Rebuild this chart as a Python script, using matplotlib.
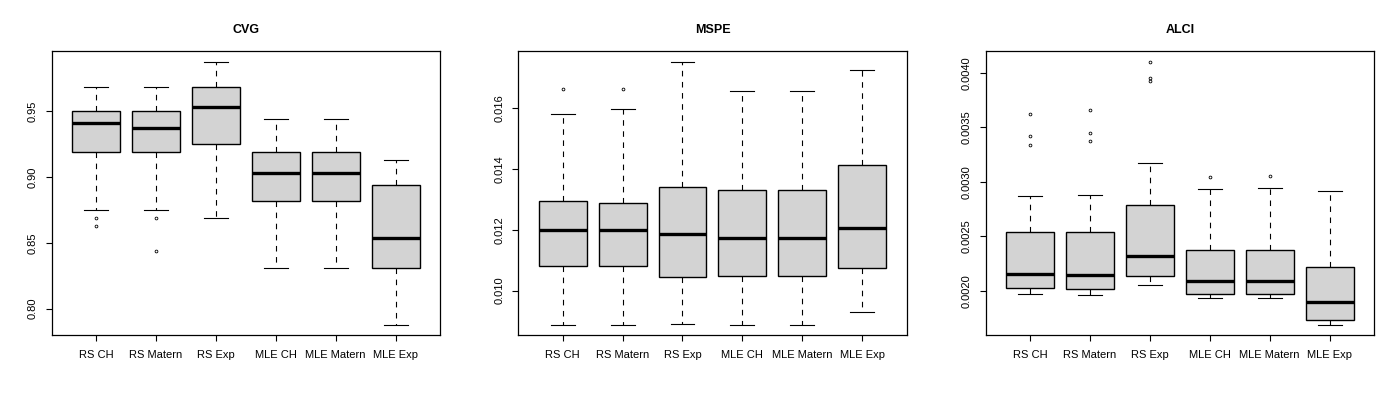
import matplotlib
matplotlib.use("Agg")
import matplotlib.pyplot as plt

plt.rcParams['font.family'] = ['Liberation Sans', 'DejaVu Sans']

categories = ["RS CH", "RS Matern", "RS Exp", "MLE CH", "MLE Matern", "MLE Exp"]

# CVG: lower whisker, Q1, median, Q3, upper whisker, outliers
cvg_whislo = [0.8746, 0.8746, 0.8685, 0.8312, 0.8312, 0.7878]
cvg_q1     = [0.9188, 0.9188, 0.9249, 0.8815, 0.8815, 0.8312]
cvg_med    = [0.9409, 0.9370, 0.9530, 0.9028, 0.9028, 0.8533]
cvg_q3     = [0.9500, 0.9500, 0.9680, 0.9188, 0.9188, 0.8936]
cvg_whishi = [0.9680, 0.9680, 0.9873, 0.9439, 0.9439, 0.9127]
cvg_fliers = [[0.8685, 0.8624], [0.8685, 0.8434], [], [], [], []]

# MSPE
mspe_whislo = [0.008877, 0.008877, 0.008910, 0.008877, 0.008877, 0.009307]
mspe_q1     = [0.010826, 0.010826, 0.010462, 0.010495, 0.010495, 0.010760]
mspe_med    = [0.011982, 0.011982, 0.011861, 0.011718, 0.011718, 0.012048]
mspe_q3     = [0.012962, 0.012895, 0.013402, 0.013325, 0.013325, 0.014150]
mspe_whishi = [0.015802, 0.015978, 0.017530, 0.016561, 0.016561, 0.017266]
mspe_fliers = [[0.016639], [0.016639], [], [], [], []]

# ALCI
alci_whislo = [0.001972, 0.001963, 0.002055, 0.001935, 0.001935, 0.001687]
alci_q1     = [0.002028, 0.002018, 0.002138, 0.001972, 0.001972, 0.001733]
alci_med    = [0.002157, 0.002147, 0.002323, 0.002086, 0.002086, 0.001899]
alci_q3     = [0.002535, 0.002535, 0.002783, 0.002378, 0.002378, 0.002221]
alci_whishi = [0.002869, 0.002876, 0.003171, 0.002931, 0.002940, 0.002912]
alci_fliers = [[0.003622, 0.003419, 0.003336],
               [0.003659, 0.003447, 0.003373],
               [0.004101, 0.003948, 0.003923],
               [0.003041], [0.003051], []]

cvg_ticks = [0.80, 0.85, 0.90, 0.95]
cvg_ticklabels = ["0.80", "0.85", "0.90", "0.95"]
mspe_ticks = [0.010, 0.012, 0.014, 0.016]
mspe_ticklabels = ["0.010", "0.012", "0.014", "0.016"]
alci_ticks = [0.0020, 0.0025, 0.0030, 0.0035, 0.0040]
alci_ticklabels = ["0.0020", "0.0025", "0.0030", "0.0035", "0.0040"]

panels = [
    ("CVG", cvg_whislo, cvg_q1, cvg_med, cvg_q3, cvg_whishi, cvg_fliers, cvg_ticks, cvg_ticklabels),
    ("MSPE", mspe_whislo, mspe_q1, mspe_med, mspe_q3, mspe_whishi, mspe_fliers, mspe_ticks, mspe_ticklabels),
    ("ALCI", alci_whislo, alci_q1, alci_med, alci_q3, alci_whishi, alci_fliers, alci_ticks, alci_ticklabels),
]

fig = plt.figure(figsize=(14, 4), dpi=100)
lefts = [51.7, 518.3, 985.7]
width_px = 388.3
top_px, bot_px = 51.3, 335.3

for (title, wlo, q1, med, q3, whi, fl, ticks, tlabels), lp in zip(panels, lefts):
    ax = fig.add_axes([lp / 1400, 1 - bot_px / 400, width_px / 1400, (bot_px - top_px) / 400])
    stats = []
    for i in range(len(categories)):
        stats.append(dict(whislo=wlo[i], q1=q1[i], med=med[i], q3=q3[i],
                          whishi=whi[i], fliers=fl[i], label=categories[i]))
    ax.bxp(stats, positions=range(1, 7), widths=0.8, patch_artist=True,
           showfliers=True,
           boxprops=dict(facecolor="#d3d3d3", edgecolor="black", linewidth=1.0),
           medianprops=dict(color="black", linewidth=2.4, solid_capstyle="butt"),
           whiskerprops=dict(color="black", linewidth=0.8, linestyle=(0, (5, 5))),
           capprops=dict(color="black", linewidth=0.8),
           capwidths=0.4,
           flierprops=dict(marker="o", markersize=2.0, markerfacecolor="none",
                           markeredgecolor="black", markeredgewidth=0.6, linestyle="none"))
    allv = wlo + whi + [v for f in fl for v in f]
    lo, hi = min(allv), max(allv)
    r = hi - lo
    ax.set_ylim(lo - 0.04 * r, hi + 0.04 * r)
    ax.set_xlim(0.26, 6.74)
    ax.set_yticks(ticks)
    ax.set_yticklabels(tlabels, rotation=90, va="center")
    ax.set_xticks(range(1, 7))
    ax.set_xticklabels(categories)
    ax.tick_params(axis="both", length=4.5, width=0.8, labelsize=8, color="black")
    ax.tick_params(axis="x", pad=6)
    ax.tick_params(axis="y", pad=5.5)
    for s in ax.spines.values():
        s.set_linewidth(0.9)
        s.set_color("black")
    ax.set_title(title, fontsize=9, fontweight="bold", pad=13)

fig.savefig("out.png", dpi=100)
